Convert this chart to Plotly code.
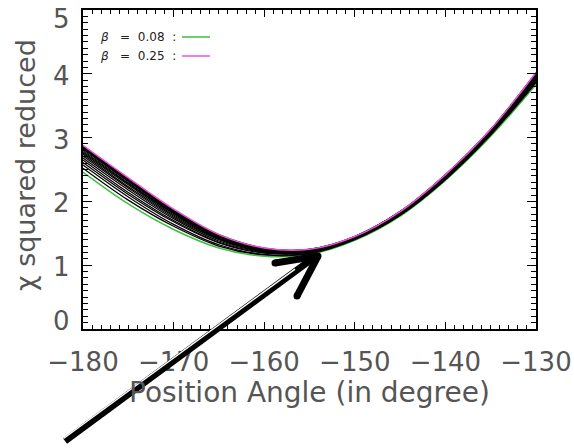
import plotly.graph_objects as go

# position angle samples (degrees)
angle = [-180, -175, -170, -165, -160, -155, -150, -145, -140, -135, -130]

# reduced chi-square for the two bounding beta values
chi2_beta_008 = [2.46, 1.96, 1.56, 1.27, 1.14, 1.17, 1.39, 1.77, 2.33, 3.02, 3.83]
chi2_beta_025 = [2.88, 2.37, 1.88, 1.48, 1.27, 1.25, 1.45, 1.84, 2.42, 3.13, 4.02]

# intermediate beta values (black family of curves)
chi2_family = [
    [2.52, 2.02, 1.61, 1.30, 1.16, 1.18, 1.40, 1.78, 2.34, 3.04, 3.86],
    [2.57, 2.07, 1.64, 1.32, 1.17, 1.19, 1.41, 1.79, 2.35, 3.05, 3.88],
    [2.61, 2.11, 1.68, 1.35, 1.19, 1.20, 1.41, 1.80, 2.36, 3.06, 3.90],
    [2.65, 2.14, 1.70, 1.36, 1.20, 1.21, 1.42, 1.80, 2.37, 3.07, 3.92],
    [2.68, 2.18, 1.73, 1.38, 1.21, 1.21, 1.42, 1.81, 2.38, 3.08, 3.93],
    [2.71, 2.21, 1.75, 1.40, 1.22, 1.22, 1.43, 1.81, 2.38, 3.09, 3.94],
    [2.74, 2.23, 1.77, 1.41, 1.23, 1.22, 1.43, 1.82, 2.39, 3.09, 3.96],
    [2.76, 2.26, 1.79, 1.42, 1.23, 1.23, 1.43, 1.82, 2.39, 3.10, 3.97],
    [2.78, 2.28, 1.81, 1.43, 1.24, 1.23, 1.44, 1.82, 2.40, 3.10, 3.98],
    [2.80, 2.29, 1.82, 1.44, 1.25, 1.23, 1.44, 1.83, 2.40, 3.11, 3.98],
    [2.82, 2.31, 1.83, 1.45, 1.25, 1.24, 1.44, 1.83, 2.41, 3.11, 3.99],
    [2.83, 2.32, 1.84, 1.45, 1.25, 1.24, 1.44, 1.83, 2.41, 3.12, 4.00],
    [2.84, 2.33, 1.85, 1.46, 1.26, 1.24, 1.44, 1.83, 2.41, 3.12, 4.00],
    [2.85, 2.35, 1.86, 1.47, 1.26, 1.25, 1.45, 1.84, 2.41, 3.12, 4.01],
    [2.86, 2.35, 1.87, 1.47, 1.26, 1.25, 1.45, 1.84, 2.42, 3.13, 4.01],
    [2.87, 2.36, 1.87, 1.48, 1.27, 1.25, 1.45, 1.84, 2.42, 3.13, 4.02],
]

x_ticks = [-180, -170, -160, -150, -140, -130]
y_ticks = [0, 1, 2, 3, 4, 5]
# end labels are nudged inward so they stay inside the frame height
y_label_shift = [8, -2, -2, -2, -2, -9]

GREEN = "#3cbf3c"
MAGENTA = "#f050d8"
TEXT = "#555555"
FONT = "DejaVu Sans"

fig = go.Figure()

fig.add_trace(go.Scatter(x=angle, y=chi2_beta_008, mode="lines",
                         line=dict(color=GREEN, width=1.5, shape="spline"),
                         showlegend=False))
for curve in chi2_family:
    fig.add_trace(go.Scatter(x=angle, y=curve, mode="lines",
                             line=dict(color="black", width=1.2, shape="spline"),
                             showlegend=False))
fig.add_trace(go.Scatter(x=angle, y=chi2_beta_025, mode="lines",
                         line=dict(color=MAGENTA, width=1.5, shape="spline"),
                         showlegend=False))

axis_common = dict(showgrid=False, zeroline=False, showline=True,
                   linecolor="black", linewidth=1.5, mirror="ticks",
                   ticks="inside", tickcolor="black", tickwidth=1,
                   automargin=False,
                   tickfont=dict(family=FONT, size=26, color=TEXT))

fig.update_xaxes(range=[-180, -130], tickvals=x_ticks, ticklen=7,
                 ticklabelstandoff=9,
                 minor=dict(dtick=1, ticks="inside", ticklen=4,
                            tickcolor="black", tickwidth=1),
                 **axis_common)
fig.update_yaxes(range=[0, 5], tickvals=y_ticks, ticklen=9,
                 showticklabels=False,
                 minor=dict(dtick=0.1, ticks="inside", ticklen=5,
                            tickcolor="black", tickwidth=1),
                 **axis_common)

annotations = [
    dict(text="Position Angle (in degree)", x=0.5, y=-0.2, xref="paper",
         yref="paper", showarrow=False, xanchor="center", yanchor="middle",
         font=dict(family=FONT, size=28, color=TEXT)),
    dict(text="χ squared reduced", x=-0.128, y=0.514, xref="paper",
         yref="paper", showarrow=False, textangle=-90, xanchor="center",
         yanchor="middle", font=dict(family=FONT, size=27, color=TEXT)),
]

# y tick labels
for val, shift in zip(y_ticks, y_label_shift):
    annotations.append(dict(text=str(val), x=-0.0243, y=val, xref="paper",
                            yref="y", yshift=shift, showarrow=False,
                            xanchor="right", yanchor="middle",
                            font=dict(family=FONT, size=26, color=TEXT)))

# in-plot key
NB = "\u00a0"
legend_rows = [(f"<i>β</i>{NB*3}={NB*2}0.08{NB*2}:", GREEN, 0.9154),
               (f"<i>β</i>{NB*3}={NB*2}0.25{NB*2}:", MAGENTA, 0.8558)]
shapes = []
for label, color, ypos in legend_rows:
    annotations.append(dict(text=label, x=0.0331, y=ypos, xref="paper",
                            yref="paper", showarrow=False, xanchor="left",
                            yanchor="middle",
                            font=dict(family=FONT, size=12, color="#222222")))
    shapes.append(dict(type="line", xref="paper", yref="paper",
                       x0=0.2185, x1=0.2804, y0=ypos, y1=ypos,
                       line=dict(color=color, width=1.5)))

# pointer arrow: double-stroked shaft with a chevron head
shapes += [
    dict(type="line", xref="paper", yref="paper", layer="above",
         x0=-0.0397, y0=-0.3511, x1=0.5055, y1=0.2194,
         line=dict(color="black", width=7)),
    dict(type="line", xref="paper", yref="paper", layer="above",
         x0=-0.0430, y0=-0.3433, x1=0.4680, y1=0.1876,
         line=dict(color="white", width=1.5)),
    dict(type="line", xref="paper", yref="paper", layer="above",
         x0=0.5188, y0=0.2288, x1=0.4238, y1=0.2069,
         line=dict(color="black", width=7)),
    dict(type="line", xref="paper", yref="paper", layer="above",
         x0=0.5188, y0=0.2288, x1=0.4724, y1=0.1034,
         line=dict(color="black", width=7)),
]
for cx, cy in [(0.4238, 0.2069), (0.4724, 0.1034), (0.5188, 0.2288)]:
    shapes.append(dict(type="circle", xref="paper", yref="paper",
                       layer="above", x0=cx - 0.0077, x1=cx + 0.0077,
                       y0=cy - 0.011, y1=cy + 0.011,
                       fillcolor="black", line=dict(width=0)))

fig.update_layout(width=574, height=448,
                  margin=dict(l=83, r=38, t=10, b=119),
                  paper_bgcolor="white", plot_bgcolor="white",
                  annotations=annotations, shapes=shapes)

fig.write_html("out.html")
